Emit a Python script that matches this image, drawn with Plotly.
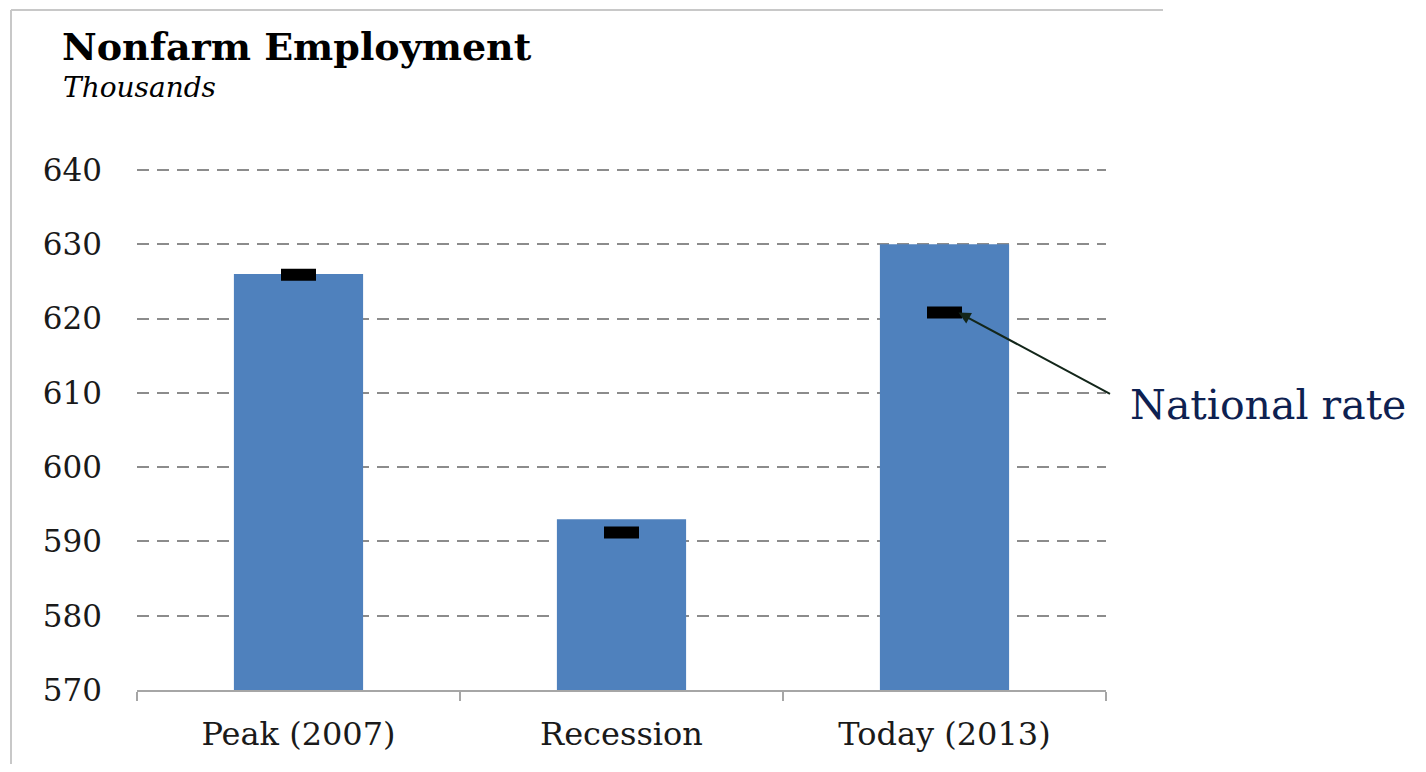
import plotly.graph_objects as go

categories = ["Peak (2007)", "Recession", "Today (2013)"]
state_values = [626.0, 593.0, 630.0]
national_values = [625.9, 591.2, 620.8]
y_ticks = [570, 580, 590, 600, 610, 620, 630, 640]

O = 8  # page body offset
W, H = 1426 - 2 * O, 772 - 2 * O
L, R, T, B = 137 - O, 1106 - O, 167 - O, 690 - O
pw, ph = R - L, B - T

def px(x):
    return (x - O - L) / pw

def py(y):
    return (B - (y - O)) / ph

fig = go.Figure()
fig.add_trace(go.Bar(
    x=categories, y=state_values, base=0,
    marker=dict(color="#4F81BD", line=dict(width=0)),
    width=0.4, showlegend=False, hoverinfo="skip",
))
fig.add_trace(go.Scatter(
    x=categories, y=national_values, mode="markers",
    marker=dict(symbol="line-ew", size=25, line=dict(color="#000000", width=12)),
    showlegend=False, hoverinfo="skip",
))

fig.update_layout(
    width=W, height=H,
    margin=dict(l=L, r=W - R, t=T, b=H - B),
    paper_bgcolor="white", plot_bgcolor="white",
    font=dict(family="DejaVu Serif", color="#000000"),
    xaxis=dict(
        range=[-0.5, len(categories) - 0.5],
        showgrid=False, showline=True, linecolor="#A6A6A6", linewidth=1.5,
        ticks="outside", tickson="boundaries", ticklen=9, tickcolor="#A6A6A6", tickwidth=1.5,
        tickfont=dict(size=32, family="DejaVu Serif", color="#1a1a1a"),
        ticklabelstandoff=15,
        zeroline=False,
    ),
    yaxis=dict(
        range=[570, 640.4], tickvals=y_ticks, ticktext=[str(v) for v in y_ticks],
        showgrid=True, gridcolor="#8C8C8C", gridwidth=2, griddash="12px,8px",
        showline=False, zeroline=False, ticks="", ticklabelstandoff=34,
        tickfont=dict(size=31, family="DejaVu Serif", color="#1a1a1a"),
    ),
    shapes=[
        dict(type="line", xref="paper", yref="paper", x0=px(11), x1=px(1163), y0=py(10), y1=py(10),
             line=dict(color="#C8C8C8", width=2)),
        dict(type="line", xref="paper", yref="paper", x0=px(11), x1=px(11), y0=py(10), y1=py(772),
             line=dict(color="#C8C8C8", width=2)),
    ],
    annotations=[
        dict(text="<b>Nonfarm Employment</b>", xref="paper", yref="paper", x=px(60), y=py(46),
             xanchor="left", yanchor="middle", showarrow=False,
             font=dict(size=38, family="DejaVu Serif", color="#000000")),
        dict(text="<i>Thousands</i>", xref="paper", yref="paper", x=px(61), y=py(87),
             xanchor="left", yanchor="middle", showarrow=False,
             font=dict(size=28, family="DejaVu Serif", color="#000000")),
        dict(x=2, y=national_values[2], xref="x", yref="y", xshift=14, text="",
             showarrow=True, arrowhead=2, arrowsize=1.2, arrowwidth=2, arrowcolor="#13261A",
             ax=153, ay=82, standoff=0),
        dict(text="National rate", xref="paper", yref="paper", x=px(1128), y=py(405),
             xanchor="left", yanchor="middle", showarrow=False,
             font=dict(size=41, family="DejaVu Serif", color="#0E2151")),
    ],
)

fig.write_html("out.html")
